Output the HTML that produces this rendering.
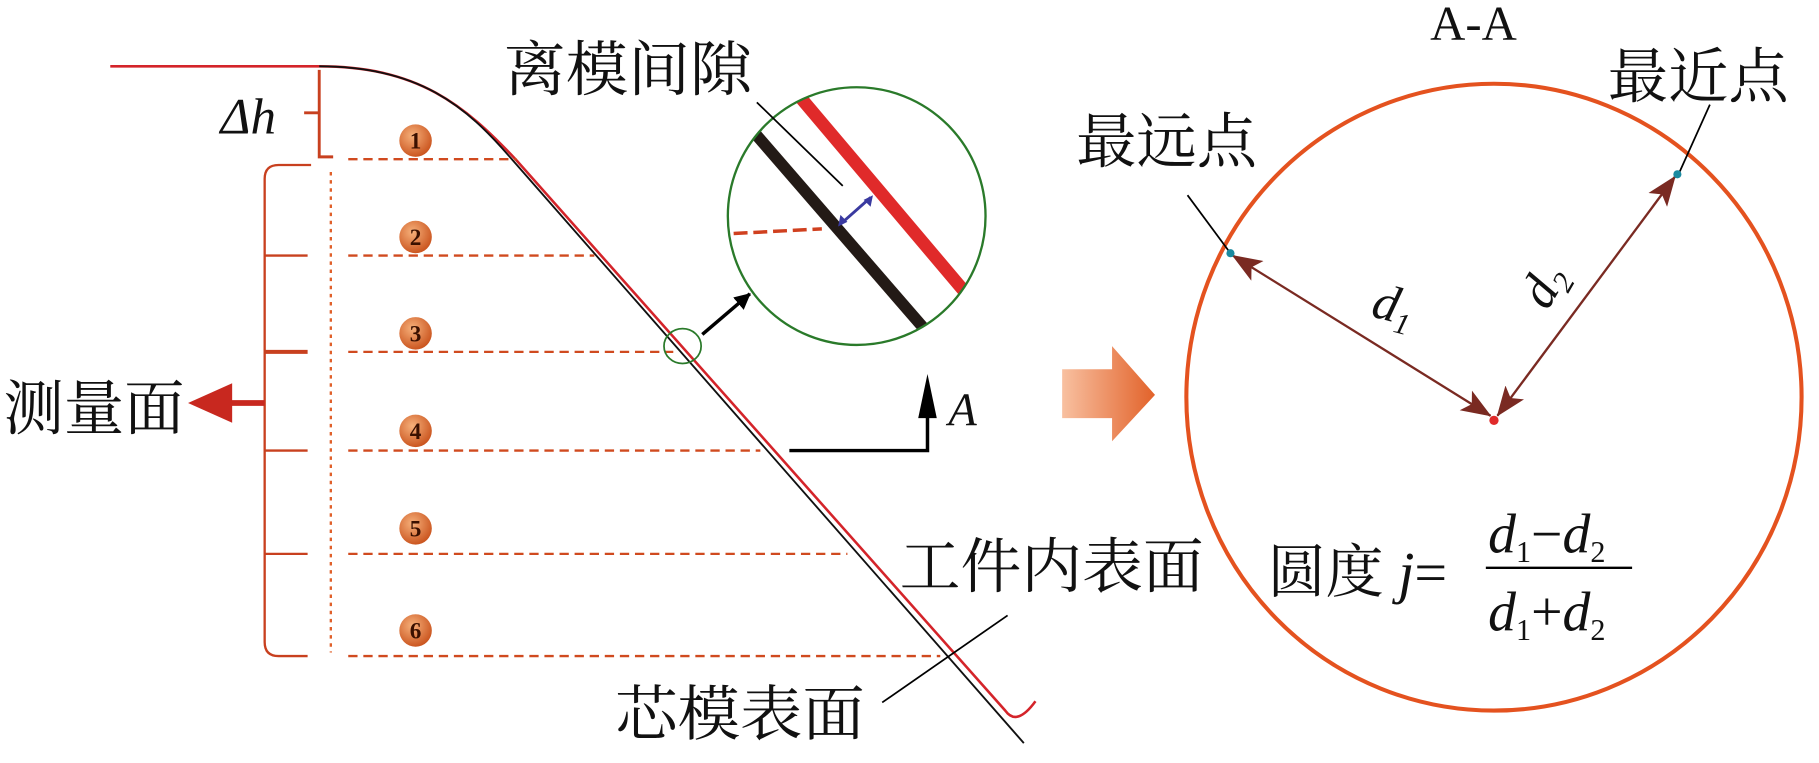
<!DOCTYPE html>
<html><head><meta charset="utf-8"><style>
html,body{margin:0;padding:0;background:#fff;width:1819px;height:763px;overflow:hidden}
text{font-family:"Liberation Serif","Noto Serif CJK SC",serif}
</style></head><body>
<svg width="1819" height="763" viewBox="0 0 1567 657" xmlns="http://www.w3.org/2000/svg">
<defs>
<radialGradient id="ball" cx="0.4" cy="0.35" r="0.7"><stop offset="0" stop-color="#f6b07a"/><stop offset="1" stop-color="#c8501a"/></radialGradient>
<linearGradient id="bigarrow" x1="0" x2="1"><stop offset="0" stop-color="#f8c0a0"/><stop offset="1" stop-color="#e2622a"/></linearGradient>
<marker id="ah" markerWidth="14" markerHeight="14" refX="13" refY="7" orient="auto" markerUnits="userSpaceOnUse" viewBox="0 0 14 14"><path d="M0,0 L14,7 L0,14 Z" fill="#000"/></marker>
<marker id="dr" markerWidth="26" markerHeight="20" refX="25" refY="10" orient="auto" markerUnits="userSpaceOnUse" viewBox="0 0 26 20"><path d="M0,0 L26,10 L0,20 L6,10 Z" fill="#7a2a22"/></marker>
<marker id="drs" markerWidth="26" markerHeight="20" refX="1" refY="10" orient="auto" markerUnits="userSpaceOnUse" viewBox="0 0 26 20"><path d="M26,0 L0,10 L26,20 L20,10 Z" fill="#7a2a22"/></marker>
</defs>
<path d="M95,57 L275,57 C360,57 400,90 445,138 L866,612 Q876,626 892,604" fill="none" stroke="#d4242a" stroke-width="2.2"/>
<path d="M275,57 C362,57 402,92 440,136 L882,640" fill="none" stroke="#111" stroke-width="1.6"/>
<path d="M262,97 L275,97 M275,60 L275,135 L287,135" fill="none" stroke="#c8401f" stroke-width="2.5"/>
<text x="190" y="115" font-size="44" font-style="italic" fill="#111">Δh</text>
<path d="M268,142 L240,142 Q228,142 228,154 L228,553 Q228,565 240,565 L265,565" fill="none" stroke="#c8401f" stroke-width="2"/>
<path d="M228,220 L265,220 M228,388 L265,388 M228,477 L265,477" stroke="#c8401f" stroke-width="2"/>
<path d="M228,303 L265,303" stroke="#c8401f" stroke-width="3.5"/>
<path d="M228,347 L195,347" stroke="#c8281f" stroke-width="5"/>
<path d="M200,330 L162,347 L200,364 Z" fill="#c8281f"/>
<text x="3" y="370" font-size="52" fill="#111" textLength="156" lengthAdjust="spacingAndGlyphs">测量面</text>
<path d="M285,148 L285,562" stroke="#e0602a" stroke-width="2" stroke-dasharray="3,4"/>
<g stroke="#d04a1f" stroke-width="2" stroke-dasharray="8,5">
<path d="M300,137 L445,137"/><path d="M300,220 L512,220"/><path d="M300,303 L580,303"/>
<path d="M300,388 L655,388"/><path d="M300,477 L730,477"/><path d="M300,565 L810,565"/>
</g>
<g font-size="20" font-weight="bold" fill="#3a1000" text-anchor="middle">
<circle cx="358" cy="121" r="14" fill="url(#ball)"/><text x="358" y="128">1</text>
<circle cx="358" cy="204" r="14" fill="url(#ball)"/><text x="358" y="211">2</text>
<circle cx="358" cy="287" r="14" fill="url(#ball)"/><text x="358" y="294">3</text>
<circle cx="358" cy="371" r="14" fill="url(#ball)"/><text x="358" y="378">4</text>
<circle cx="358" cy="455" r="14" fill="url(#ball)"/><text x="358" y="462">5</text>
<circle cx="358" cy="543" r="14" fill="url(#ball)"/><text x="358" y="550">6</text>
</g>
<ellipse cx="588" cy="298" rx="16" ry="15" fill="none" stroke="#2a7a2a" stroke-width="1.5"/>
<path d="M605,288 L646,253" stroke="#000" stroke-width="3" marker-end="url(#ah)"/>
<clipPath id="mc"><circle cx="738" cy="186" r="111"/></clipPath>
<g clip-path="url(#mc)">
<path d="M688,82 L830,250" stroke="#e02a2a" stroke-width="11"/>
<path d="M648,112 L797,284" stroke="#231a16" stroke-width="10"/>
</g>
<circle cx="738" cy="186" r="111" fill="none" stroke="#2a7a2a" stroke-width="2"/>
<path d="M632,201 L708,197" stroke="#d0401f" stroke-width="3" stroke-dasharray="12,5"/>
<path d="M724,193 L750,170" stroke="#3a3aa0" stroke-width="2.5"/>
<path d="M722,195 L724,185 L730,191 Z M752,168 L750,178 L744,172 Z" fill="#3a3aa0"/>
<path d="M652,88 L726,160" stroke="#000" stroke-width="1.5"/>
<text x="434" y="78" font-size="52" fill="#111" textLength="214" lengthAdjust="spacingAndGlyphs">离模间隙</text>
<path d="M680,388 L799,388 L799,335" fill="none" stroke="#000" stroke-width="3"/>
<path d="M791,360 L799,322 L807,360 Z" fill="#000"/>
<text x="817" y="366" font-size="40" font-style="italic" fill="#111">A</text>
<text x="775" y="506" font-size="52" fill="#111" textLength="262" lengthAdjust="spacingAndGlyphs">工件内表面</text>
<text x="530" y="633" font-size="52" fill="#111" textLength="215" lengthAdjust="spacingAndGlyphs">芯模表面</text>
<path d="M760,605 L868,530" stroke="#000" stroke-width="1.5"/>
<path d="M915,318 L958,318 L958,298 L995,340 L958,380 L958,360 L915,360 Z" fill="url(#bigarrow)"/>
<ellipse cx="1287" cy="342" rx="265" ry="270" fill="none" stroke="#e4521f" stroke-width="3.5"/>
<text x="1232" y="34" font-size="42" fill="#111">A-A</text>
<text x="1385" y="84" font-size="52" fill="#111" textLength="156" lengthAdjust="spacingAndGlyphs">最近点</text>
<text x="927" y="140" font-size="52" fill="#111" textLength="156" lengthAdjust="spacingAndGlyphs">最远点</text>
<path d="M1473,90 L1446,150" stroke="#000" stroke-width="1.5"/>
<path d="M1023,168 L1060,218" stroke="#000" stroke-width="1.5"/>
<path d="M1284,358 L1062,220" stroke="#7a2a22" stroke-width="2" marker-end="url(#dr)" marker-start="url(#drs)"/>
<path d="M1290,358 L1443,152" stroke="#7a2a22" stroke-width="2" marker-end="url(#dr)" marker-start="url(#drs)"/>
<circle cx="1060" cy="218" r="3.5" fill="#1a8aa0"/>
<circle cx="1445" cy="150" r="3.5" fill="#1a8aa0"/>
<circle cx="1287" cy="362" r="4" fill="#e02a2a"/>
<g transform="translate(1180,272) rotate(15)"><text font-size="44" font-style="italic" fill="#111">d<tspan font-size="26" dy="8">1</tspan></text></g>
<g transform="translate(1333,268) rotate(-60)"><text font-size="44" font-style="italic" fill="#111">d<tspan font-size="26" dy="8">2</tspan></text></g>
<text x="1092" y="510" font-size="50" fill="#111">圆度 <tspan font-style="italic">j</tspan>=</text>
<text x="1282" y="476" font-size="48" fill="#111"><tspan font-style="italic">d</tspan><tspan font-size="26" dy="8">1</tspan><tspan dy="-8">−</tspan><tspan font-style="italic">d</tspan><tspan font-size="26" dy="8">2</tspan></text>
<path d="M1280,489 L1406,489" stroke="#000" stroke-width="2"/>
<text x="1282" y="543" font-size="48" fill="#111"><tspan font-style="italic">d</tspan><tspan font-size="26" dy="8">1</tspan><tspan dy="-8">+</tspan><tspan font-style="italic">d</tspan><tspan font-size="26" dy="8">2</tspan></text>
</svg>
</body></html>
